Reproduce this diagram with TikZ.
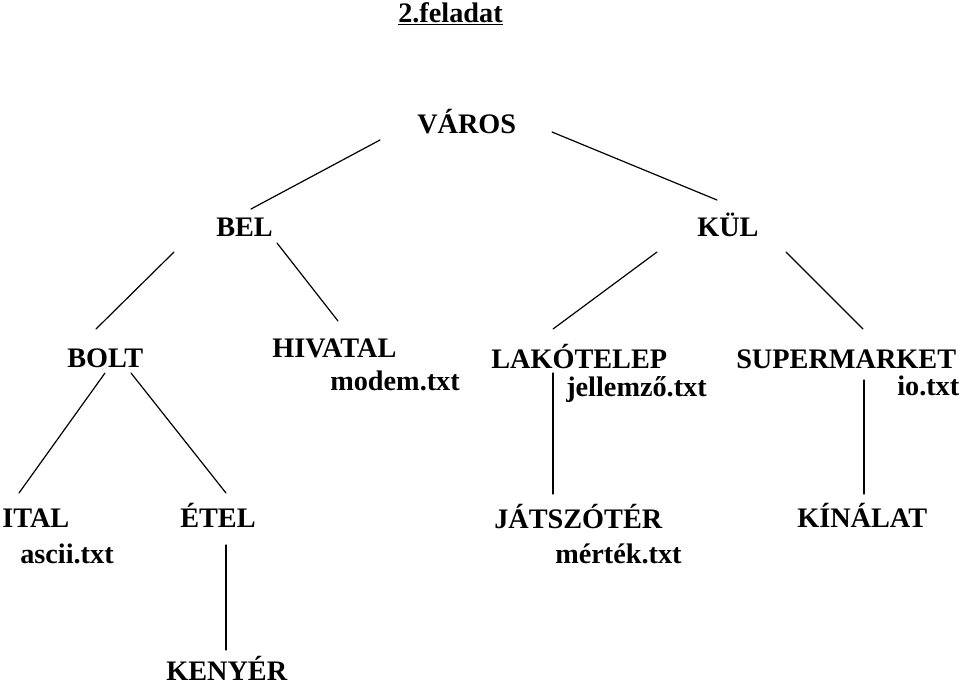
\documentclass[tikz,border=0pt]{standalone}
\usepackage{fontspec}
\setmainfont{Liberation Serif}
\usetikzlibrary{positioning}

\begin{document}
\begin{tikzpicture}[x=0.75pt,y=-0.75pt,
 label/.style={anchor=base west,inner sep=0pt,font=\fontsize{21.2}{25}\selectfont\bfseries},
 branch/.style={line width=0.9pt,line cap=round}]
\useasboundingbox (0,0) rectangle (960,687);
\node[label] (title) at (398,22) {\underline{2.feladat}};
% levels of the tree
\node[label] (varos) at (417,133) {VÁROS};
\node[label] (bel) at (216,236) {BEL};
\node[label] (kul) at (697,236) {KÜL};
\node[label] (bolt) at (67,367) {BOLT};
\node[label] (hivatal) at (272,357) {HIVATAL};
\node[label] (modem) at (330,390) {modem.txt};
\node[label] (lakotelep) at (491,368) {LAKÓTELEP};
\node[label] (jellemzo) at (566,396) {jellemző.txt};
\node[label] (supermarket) at (736,368) {SUPERMARKET};
\node[label] (io) at (897,395) {io.txt};
\node[label] (ital) at (2,527) {ITAL};
\node[label] (ascii) at (20,563) {ascii.txt};
\node[label] (etel) at (180,527) {ÉTEL};
\node[label] (jatszoter) at (494,528) {JÁTSZÓTÉR};
\node[label] (mertek) at (555,563) {mérték.txt};
\node[label] (kinalat) at (797,527) {KÍNÁLAT};
\node[label] (kenyer) at (166,680) {KENYÉR};
% branches
\draw[branch] ([shift={(-37,7)}]varos.base west) -- ([shift={(35,-27)}]bel.base west);
\draw[branch] ([shift={(135,-1)}]varos.base west) -- ([shift={(20,-36)}]kul.base west);
\draw[branch] ([shift={(-42,16)}]bel.base west) -- ([shift={(29,-38)}]bolt.base west);
\draw[branch] ([shift={(61,7)}]bel.base west) -- ([shift={(66,-36)}]hivatal.base west);
\draw[branch] ([shift={(-40,16)}]kul.base west) -- ([shift={(62,-39)}]lakotelep.base west);
\draw[branch] ([shift={(89,16)}]kul.base west) -- ([shift={(127,-39)}]supermarket.base west);
\draw[branch] ([shift={(38,6)}]bolt.base west) -- ([shift={(17,-34)}]ital.base west);
\draw[branch] ([shift={(64,6)}]bolt.base west) -- ([shift={(46,-34)}]etel.base west);
\draw[branch] ([shift={(62,5)}]lakotelep.base west) -- ([shift={(59,-34)}]jatszoter.base west);
\draw[branch] ([shift={(128,12)}]supermarket.base west) -- ([shift={(67,-33)}]kinalat.base west);
\draw[branch] ([shift={(46,18)}]etel.base west) -- ([shift={(60,-30)}]kenyer.base west);
\end{tikzpicture}
\end{document}
